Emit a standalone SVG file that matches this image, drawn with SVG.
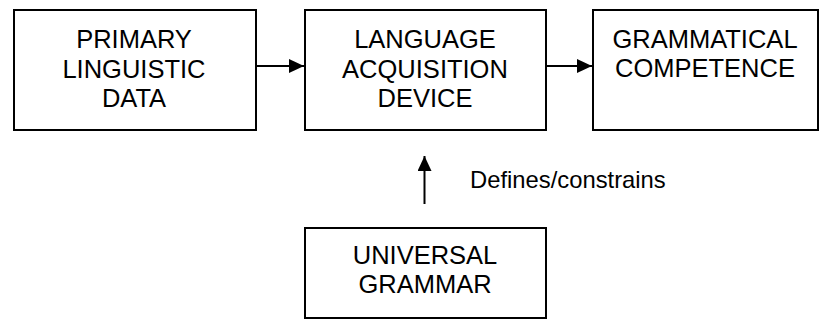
<svg xmlns="http://www.w3.org/2000/svg" width="824" height="320" viewBox="0 0 824 320">
<style>
.box{fill:#fff;stroke:#000;stroke-width:2}
.t{font-family:"Liberation Sans",Arial,sans-serif;font-size:25.5px;fill:#000;text-anchor:middle}
.lbl{font-family:"Liberation Sans",Arial,sans-serif;font-size:23.8px;fill:#000}
.c{stroke:#000;stroke-width:2;fill:none}
</style>
<defs>
<marker id="ah" viewBox="0 0 15 14" refX="15" refY="7" markerWidth="15" markerHeight="14" markerUnits="userSpaceOnUse" orient="auto">
<path d="M0,0 L15,7 L0,14 Z" fill="#000"/>
</marker>
</defs>
<rect width="824" height="320" fill="#fff"/>
<g id="pld">
<rect class="box" x="14" y="10" width="242" height="120"/>
<text class="t" x="134" y="48">PRIMARY</text>
<text class="t" x="134" y="78">LINGUISTIC</text>
<text class="t" x="134" y="107">DATA</text>
</g>
<g id="lad">
<rect class="box" x="305" y="10" width="241" height="120"/>
<text class="t" x="425" y="48">LANGUAGE</text>
<text class="t" x="425" y="78">ACQUISITION</text>
<text class="t" x="425" y="107">DEVICE</text>
</g>
<g id="gc">
<rect class="box" x="593" y="10" width="225" height="120"/>
<text class="t" x="705" y="48">GRAMMATICAL</text>
<text class="t" x="705" y="77">COMPETENCE</text>
</g>
<g id="ug">
<rect class="box" x="305" y="228" width="241" height="90"/>
<text class="t" x="425" y="264">UNIVERSAL</text>
<text class="t" x="425" y="293">GRAMMAR</text>
</g>
<g id="connectors">
<line class="c" x1="256" y1="66" x2="304" y2="66" marker-end="url(#ah)"/>
<line class="c" x1="546" y1="66" x2="592" y2="66" marker-end="url(#ah)"/>
<line class="c" x1="424.5" y1="204" x2="424.5" y2="156" marker-end="url(#ah)"/>
<text class="lbl" x="470" y="188">Defines/constrains</text>
</g>
</svg>
